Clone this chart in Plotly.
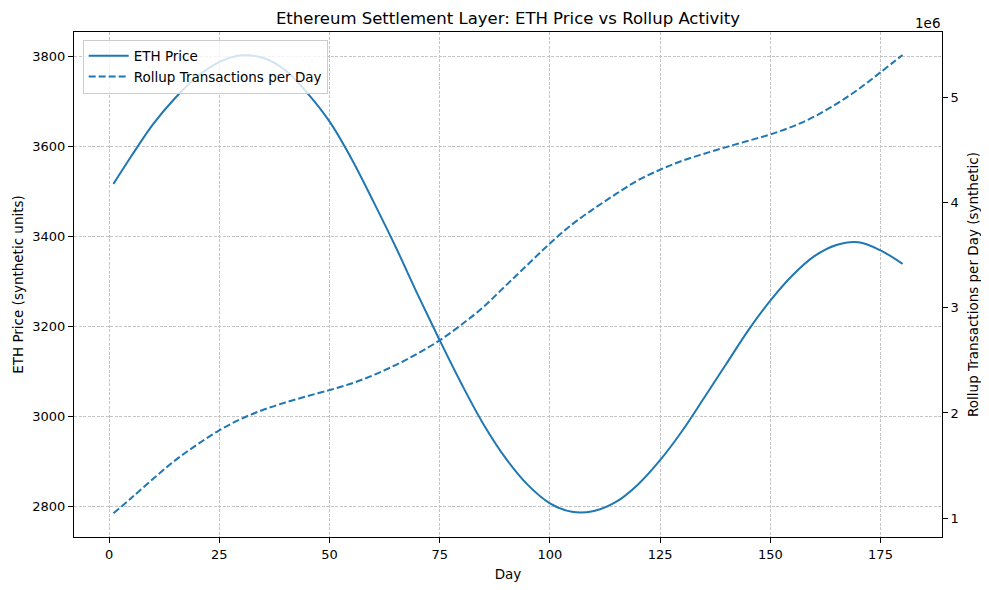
import plotly.graph_objects as go

# Data
days = [1, 5, 10, 15, 20, 25, 30, 35, 40, 45, 50, 55, 60, 65, 70, 75, 80, 85, 90,
        95, 100, 105, 110, 115, 120, 125, 130, 135, 140, 145, 150, 155, 160, 165,
        170, 175, 180]
eth_price = [3517, 3578, 3650, 3708, 3756, 3788, 3803, 3797, 3770, 3719, 3656,
             3573, 3477, 3377, 3271, 3169, 3071, 2981, 2906, 2847, 2806, 2787,
             2789, 2809, 2848, 2902, 2967, 3041, 3116, 3191, 3257, 3313, 3356,
             3381, 3387, 3369, 3339]
rollup_tx = [1047000, 1190000, 1375000, 1550000, 1700000, 1835000, 1945000,
             2030000, 2100000, 2160000, 2217000, 2280000, 2360000, 2455000,
             2565000, 2690000, 2840000, 3010000, 3210000, 3410000, 3610000,
             3790000, 3940000, 4080000, 4210000, 4310000, 4395000, 4462000,
             4525000, 4585000, 4645000, 4720000, 4815000, 4935000, 5075000,
             5235000, 5400000]

x_ticks = [0, 25, 50, 75, 100, 125, 150, 175]
left_ticks = [2800, 3000, 3200, 3400, 3600, 3800]
right_tickvals = [1e6, 2e6, 3e6, 4e6, 5e6]
right_ticktext = ["1", "2", "3", "4", "5"]

BLUE = "#1f77b4"
FONT = "DejaVu Sans"
GRID = "#c4c4c4"

fig = go.Figure()
fig.add_trace(go.Scatter(x=days, y=eth_price, name="ETH Price", mode="lines",
                         line=dict(color=BLUE, width=2, shape="spline", smoothing=1.0),
                         yaxis="y"))
fig.add_trace(go.Scatter(x=days, y=rollup_tx, name="Rollup Transactions per Day",
                         mode="lines",
                         line=dict(color=BLUE, width=2, dash="7px,3px", shape="spline",
                                   smoothing=1.0),
                         yaxis="y2"))

axis_common = dict(showline=True, linecolor="black", linewidth=1, ticks="outside",
                   ticklen=5, tickcolor="black", zeroline=False, automargin=False,
                   tickfont=dict(size=13, color="black", family=FONT))

# The page has an 8px body margin; compensate so the plot area matches the reference.
fig.update_layout(
    width=981, height=582,
    margin=dict(l=66, r=47, t=24, b=53),
    paper_bgcolor="white", plot_bgcolor="white",
    font=dict(family=FONT, color="black", size=13),
    title=dict(text="Ethereum Settlement Layer: ETH Price vs Rollup Activity",
               x=0.5, xref="paper", xanchor="center",
               y=1 - 10 / 582, yref="container", yanchor="middle",
               font=dict(size=16.5, family=FONT, color="black")),
    xaxis=dict(range=[-7.95, 188.95], tickvals=x_ticks, mirror=True,
               showgrid=True, gridcolor=GRID, gridwidth=0.6, griddash="3px,1.5px",
               title=dict(text="Day", standoff=8, font=dict(size=13.5)),
               **axis_common),
    yaxis=dict(range=[2731, 3855], tickvals=left_ticks,
               showgrid=True, gridcolor=GRID, gridwidth=0.6, griddash="3px,1.5px",
               title=dict(text="ETH Price (synthetic units)", standoff=5,
                          font=dict(size=13.5)),
               **axis_common),
    yaxis2=dict(range=[822000, 5618000], tickvals=right_tickvals,
                ticktext=right_ticktext, overlaying="y", side="right",
                showgrid=False,
                title=dict(text="Rollup Transactions per Day (synthetic)", standoff=10,
                           font=dict(size=13.5)),
                **axis_common),
    legend=dict(x=0.01, y=0.985, xanchor="left", yanchor="top",
                bgcolor="rgba(255,255,255,0.8)", bordercolor="#cccccc", borderwidth=1,
                font=dict(size=13.5, family=FONT, color="black"),
                tracegroupgap=0, itemwidth=40),
    showlegend=True,
    annotations=[dict(text="1e6", xref="paper", yref="paper", x=1.0, y=1.018,
                      xanchor="right", yanchor="middle", showarrow=False,
                      font=dict(size=13.5, family=FONT, color="black"))],
)

fig.write_html("out.html")
